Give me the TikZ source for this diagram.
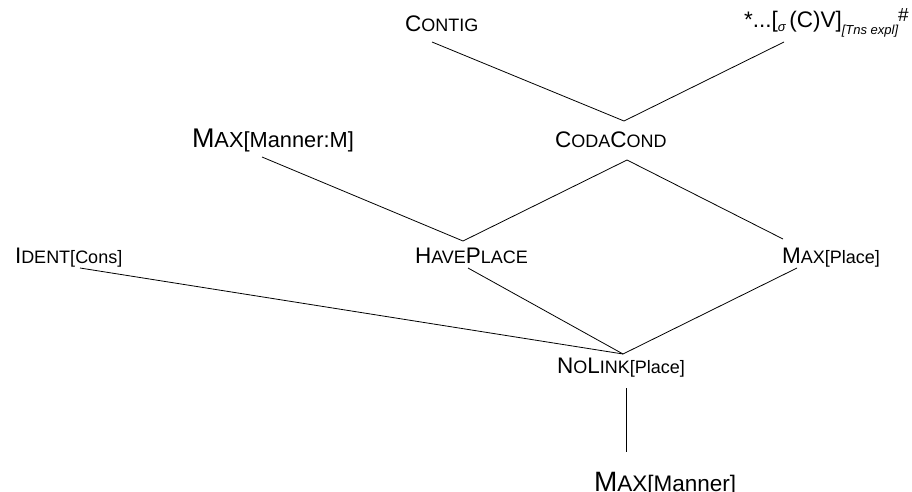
\documentclass[tikz,border=0pt]{standalone}
\usepackage{fontspec}
\setmainfont{Liberation Sans}
\newcommand\bigC[2][22.5]{{\fontsize{#1}{#1}\selectfont #2}}
\newcommand\smC[2][18]{{\fontsize{#1}{#1}\selectfont #2}}
\newcommand\subT[1]{{\fontsize{13}{15}\selectfont\itshape #1}}
\begin{document}
\begin{tikzpicture}[x=1pt,y=-1pt,
  lab/.style={anchor=base west,inner sep=0pt,outer sep=0pt,text=black},
  link/.style={draw=black,line width=0.8pt}]
\useasboundingbox (0,0) rectangle (912,492);
% labels
\node[lab] (contig) at (405,32) {\bigC{C}\smC{ONTIG}};
\node[lab] (star) at (744,28) {\bigC{*...[}\raisebox{-4pt}{\subT{σ}}\bigC{\,(C)V]}\raisebox{-7pt}{\subT{[Tns expl]}}\raisebox{6pt}{\smC[19]{\#}}};
\node[lab] (maxmm) at (192,147) {\bigC[27]{M}\smC[21.8]{AX[Manner:M]}};
\node[lab] (coda) at (555,147) {\bigC{C}\smC{ODA}\bigC{C}\smC{OND}};
\node[lab] (ident) at (15,263) {\bigC{I}\smC{DENT[Cons]}};
\node[lab] (have) at (415,263) {\bigC{H}\smC{AVE}\bigC{P}\smC{LACE}};
\node[lab] (maxpl) at (782,263) {\bigC{M}\smC{AX[Place]}};
\node[lab] (nolink) at (557,373) {\bigC{N}\smC{O}\bigC{L}\smC{INK[Place]}};
\node[lab] (maxman) at (594,491) {\bigC[28]{M}\smC[22.5]{AX[Manner]}};
% junctions
\coordinate (jcontig) at (432,42);
\coordinate (jstar) at (784,42);
\coordinate (jcodaT) at (624,121);
\coordinate (jcodaB) at (627,160);
\coordinate (jmaxmm) at (262,157);
\coordinate (jhaveT) at (463,241);
\coordinate (jhaveB) at (468,268);
\coordinate (jmaxplT) at (783,239);
\coordinate (jmaxplB) at (797,268);
\coordinate (jident) at (80,268);
\coordinate (jnoT) at (623,354);
\coordinate (jnoB) at (626,388);
\coordinate (jmaxman) at (626,452);
% connectors
\draw[link] (jcontig) -- (jcodaT) -- (jstar);
\draw[link] (jmaxmm) -- (jhaveT) -- (jcodaB) -- (jmaxplT);
\draw[link] (jident) -- (jnoT) -- (jmaxplB);
\draw[link] (jhaveB) -- (jnoT);
\draw[link] (jnoB) -- (jmaxman);
\end{tikzpicture}
\end{document}
